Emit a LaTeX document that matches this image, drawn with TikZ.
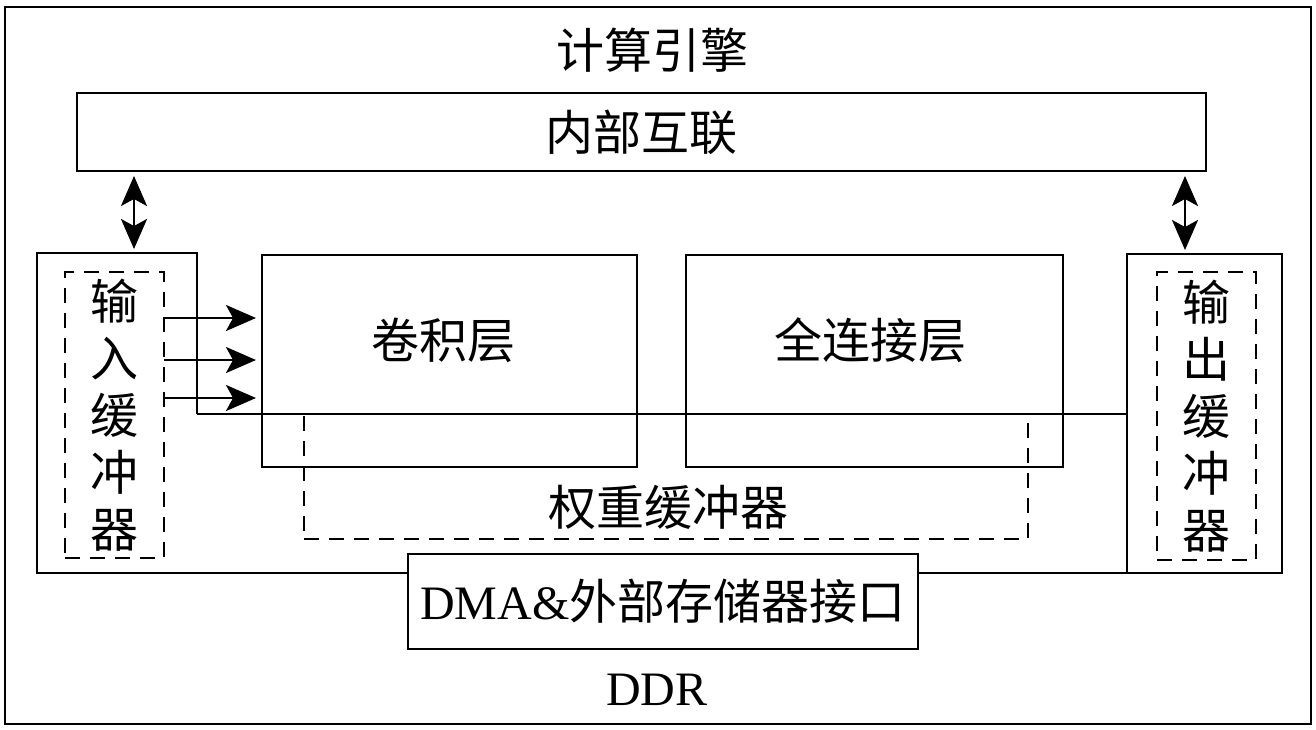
\documentclass[tikz,border=0pt]{standalone}
\usepackage{fontspec}
\setmainfont{Liberation Serif}
\newfontfamily\cjk{Noto Sans CJK SC}
\usetikzlibrary{arrows.meta}
\tikzset{
    box/.style={
        draw,
        line width=1.3pt,
        inner sep=0pt,
        outer sep=0pt,
        font=\cjk\fontsize{24}{28.5}\selectfont
    },
    dbox/.style={
        box,
        line width=1.1pt,
        dash pattern=on 7.5pt off 5pt,
        align=center
    },
    lbl/.style={font=\cjk\fontsize{24}{28.5}\selectfont},
    wire/.style={line width=1.1pt},
    tip/.tip={Stealth[length=15pt,width=13pt,inset=3.5pt]},
    arr/.style={line width=1.2pt,-tip},
    darr/.style={line width=1.2pt,tip-tip}
}

\begin{document}
\begin{tikzpicture}[x=0.5pt,y=-0.5pt]
    \useasboundingbox (0,0) rectangle (1316,729);
    \draw[line width=1.4pt] (5,7) rectangle (1311,724);
    \node[lbl] (engine) at (652,50) {计算引擎};
    \node[box,minimum width=564.5pt,minimum height=39pt] (intc) at (641.5,132) {内部互联};
    % buffers
    \node[box,minimum width=77.5pt,minimum height=159.5pt] (outbuf) at (1204.5,413.5) {};
    \node[dbox,minimum width=49.5pt,minimum height=143pt] (inbufd) at (114.5,415) {输\\入\\缓\\冲\\器};
    \node[dbox,minimum width=49.5pt,minimum height=144pt] (outbufd) at (1206.5,416) {输\\出\\缓\\冲\\器};
    % layers
    \node[box,minimum width=187.5pt,minimum height=106pt] (conv) at (449.5,361) {};
    \node[box,minimum width=188.5pt,minimum height=106pt] (fc) at (874.5,361) {};
    \node[dbox,minimum width=362pt,minimum height=62.5pt] (wbuf) at (666,476.5) {};
    \node[lbl] (convlbl) at (443,340) {卷积层};
    \node[lbl] (fclbl) at (870,340) {全连接层};
    \node[lbl] (wbuflbl) at (668,507) {权重缓冲器};
    \node[box,minimum width=255pt,minimum height=47.5pt] (dma) at (663,601.5) {{\rmfamily DMA\&}外部存储器接口};
    \node[font=\rmfamily\fontsize{24}{28.5}\selectfont] (ddr) at (657,690) {DDR};
    % input buffer outline and bus
    \coordinate (inSW) at (37,573);
    \coordinate (inNW) at (37,253);
    \coordinate (inNE) at (197,253);
    \coordinate (inBus) at (197,414);
    \draw[box] (dma.west |- inSW) -- (inSW) -- (inNW) -- (inNE) -- (inBus);
    \draw[wire] (inBus) -- (outbuf.west |- inBus);
    \draw[wire] (dma.east |- inSW) -- (outbuf.west |- inSW);
    % arrows
    \draw[darr,shorten <=2.5pt,shorten >=2pt] (intc.south -| 134,0) -- (inNE -| 134,0);
    \draw[darr,shorten <=2.5pt,shorten >=2pt] (intc.south -| 1185,0) -- (outbuf.north -| 1185,0);
    \foreach \y in {318,360,398}
        \draw[arr,shorten >=3pt] (inbufd.east |- 0,\y) -- (conv.west |- 0,\y);
\end{tikzpicture}
\end{document}
